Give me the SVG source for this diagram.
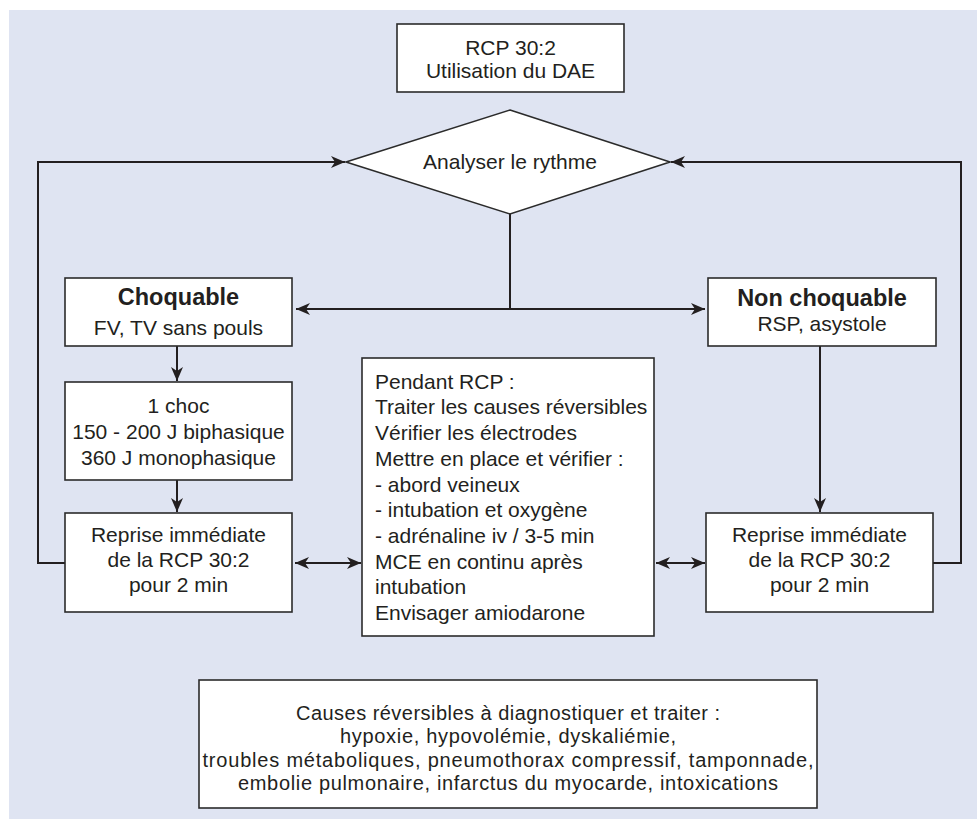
<svg xmlns="http://www.w3.org/2000/svg" width="977" height="819" viewBox="0 0 977 819">
<style>
  .box { fill: #ffffff; stroke: #2b2b2b; stroke-width: 1.6; }
  .t { font-family: "Liberation Sans", Arial, Helvetica, sans-serif; font-size: 21px; fill: #231f20; }
  .c { text-anchor: middle; }
  .b { font-weight: bold; font-size: 23.5px; }
  .s { font-size: 20px; }
  .ln { fill: none; stroke: #231f20; stroke-width: 2; }
</style>
<defs>
  <marker id="ah" viewBox="0 0 14 12" refX="14" refY="6" markerWidth="14" markerHeight="12" markerUnits="userSpaceOnUse" orient="auto-start-reverse">
    <path d="M0,0 L14,6 L0,12 L4,6 z" fill="#231f20"/>
  </marker>
</defs>
<rect x="9" y="10" width="968" height="809" fill="#dfe4f2"/>

<g id="connectors">
  <path class="ln" d="M65,563 H38 V162 H345" marker-end="url(#ah)"/>
  <path class="ln" d="M933,563 H961 V162 H671" marker-end="url(#ah)"/>
  <path class="ln" d="M510,214 V309"/>
  <path class="ln" d="M296,309 H705" marker-start="url(#ah)" marker-end="url(#ah)"/>
  <path class="ln" d="M177,346 V381" marker-end="url(#ah)"/>
  <path class="ln" d="M177,480 V512" marker-end="url(#ah)"/>
  <path class="ln" d="M820,346 V512" marker-end="url(#ah)"/>
  <path class="ln" d="M295,563 H361" marker-start="url(#ah)" marker-end="url(#ah)"/>
  <path class="ln" d="M656,563 H705" marker-start="url(#ah)" marker-end="url(#ah)"/>
</g>

<g id="start">
  <rect class="box" x="397" y="24" width="227" height="68"/>
  <text class="t c" x="510.5" y="55">RCP 30:2</text>
  <text class="t c" x="510.5" y="78">Utilisation du DAE</text>
</g>

<g id="analyse">
  <polygon class="box" points="510,110 670,162 510,214 346,162"/>
  <text class="t c" x="510" y="169">Analyser le rythme</text>
</g>

<g id="choquable">
  <rect class="box" x="65" y="278" width="227" height="68"/>
  <text class="t c b" x="178.5" y="305">Choquable</text>
  <text class="t c" x="178.5" y="335">FV, TV sans pouls</text>
</g>

<g id="non-choquable">
  <rect class="box" x="708" y="278" width="228" height="68"/>
  <text class="t c b" x="822" y="306">Non choquable</text>
  <text class="t c" x="822" y="331">RSP, asystole</text>
</g>

<g id="choc">
  <rect class="box" x="65" y="382" width="227" height="98"/>
  <text class="t c" x="178.5" y="413">1 choc</text>
  <text class="t c" x="178.5" y="439">150 - 200 J biphasique</text>
  <text class="t c" x="178.5" y="465">360 J monophasique</text>
</g>

<g id="reprise-gauche">
  <rect class="box" x="65" y="513" width="227" height="99"/>
  <text class="t c" x="178.5" y="542">Reprise immédiate</text>
  <text class="t c" x="178.5" y="567">de la RCP 30:2</text>
  <text class="t c" x="178.5" y="592">pour 2 min</text>
</g>

<g id="reprise-droite">
  <rect class="box" x="706" y="513" width="227" height="99"/>
  <text class="t c" x="819.5" y="542">Reprise immédiate</text>
  <text class="t c" x="819.5" y="567">de la RCP 30:2</text>
  <text class="t c" x="819.5" y="592">pour 2 min</text>
</g>

<g id="pendant-rcp">
  <rect class="box" x="362" y="358" width="292" height="278"/>
  <text class="t" x="375" y="389">Pendant RCP :</text>
  <text class="t" x="375" y="414">Traiter les causes réversibles</text>
  <text class="t" x="375" y="440">Vérifier les électrodes</text>
  <text class="t" x="375" y="466">Mettre en place et vérifier :</text>
  <text class="t" x="375" y="492">- abord veineux</text>
  <text class="t" x="375" y="517">- intubation et oxygène</text>
  <text class="t" x="375" y="543">- adrénaline iv / 3-5 min</text>
  <text class="t" x="375" y="569">MCE en continu après</text>
  <text class="t" x="375" y="594">intubation</text>
  <text class="t" x="375" y="620">Envisager amiodarone</text>
</g>

<g id="causes">
  <rect class="box" x="199" y="680" width="618" height="128"/>
  <text class="t c s" x="508" y="720" textLength="424" lengthAdjust="spacing">Causes réversibles à diagnostiquer et traiter :</text>
  <text class="t c s" x="508" y="743.3" textLength="336" lengthAdjust="spacing">hypoxie, hypovolémie, dyskaliémie,</text>
  <text class="t c s" x="508" y="766.6" textLength="611" lengthAdjust="spacing">troubles métaboliques, pneumothorax compressif, tamponnade,</text>
  <text class="t c s" x="508" y="790" textLength="540" lengthAdjust="spacing">embolie pulmonaire, infarctus du myocarde, intoxications</text>
</g>
</svg>
